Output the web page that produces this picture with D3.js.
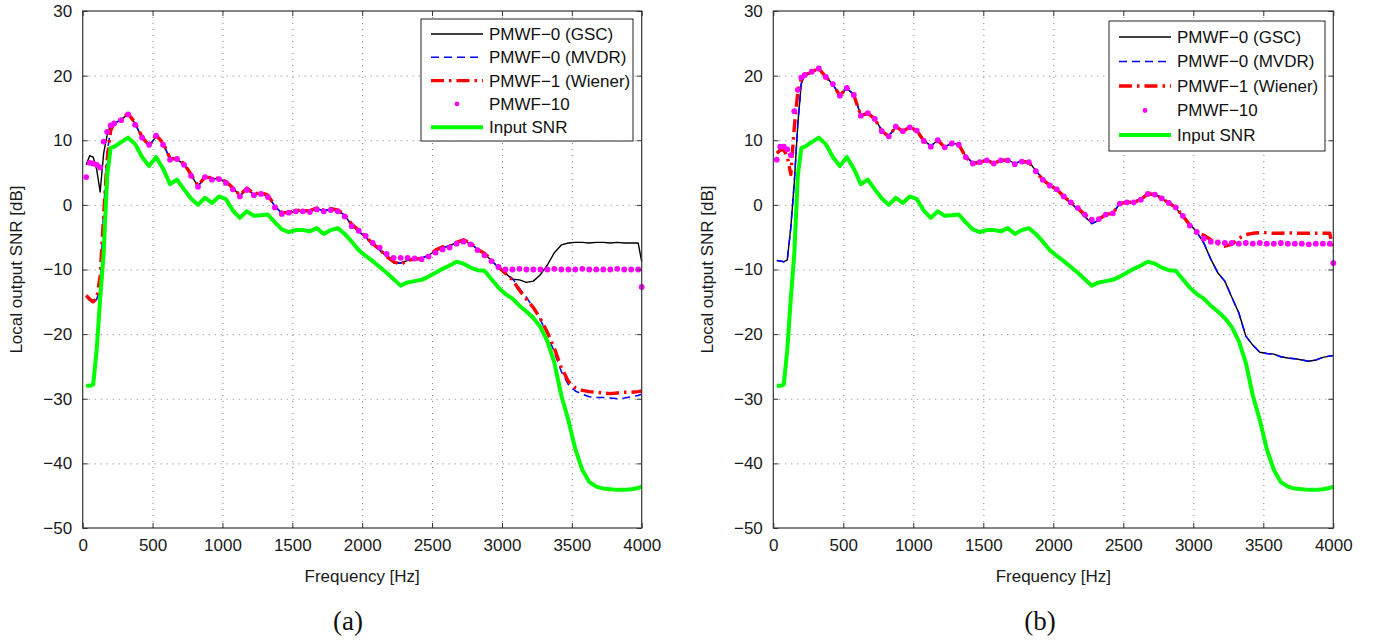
<!DOCTYPE html>
<html><head><meta charset="utf-8">
<script src="https://cdn.jsdelivr.net/npm/d3@7"></script>
<style>
body{margin:0;background:#fff;}
svg{display:block;}
text{font-family:"Liberation Sans",Arial,Helvetica,sans-serif;}
</style></head><body>
<svg id="c" width="1380" height="643"></svg>
<script>
// ---------- data ----------
const freq = [25,50,75,100,125,150,175,200,225,
  275,325,375,425,475,525,575,625,675,725,775,825,875,925,975,1025,1075,1125,1175,1225,
  1275,1325,1375,1425,1475,1525,1575,1625,1675,1725,1775,1825,1875,1925,1975,2025,2075,2125,2175,2225,
  2275,2325,2375,2425,2475,2525,2575,2625,2675,2725,2775,2825,2875,2925,2975,3025,3075,3125,3175,3225,
  3275,3325,3375,3425,3475,3525,3575,3625,3675,3725,3775,3825,3875,3925,3975,4000];

const inputSNR = [-28.0,-28.0,-27.8,-22.4,-14.5,-7.5,4.5,8.8,9.0,
  9.7,10.4,9.4,7.4,6.0,7.4,5.6,3.2,3.9,2.4,1.0,0.0,1.1,0.3,1.3,0.9,-0.9,-2.0,-1.0,-1.7,
  -1.6,-1.5,-2.7,-3.8,-4.2,-3.9,-3.9,-4.1,-3.6,-4.5,-3.9,-3.6,-4.5,-5.7,-7.0,-7.9,-8.7,-9.6,-10.5,-11.5,
  -12.5,-12.0,-11.8,-11.6,-11.1,-10.5,-9.9,-9.4,-8.8,-9.1,-9.7,-10.1,-10.2,-11.5,-12.8,-13.8,-14.5,-15.6,-16.5,-17.5,
  -18.9,-21.1,-24.4,-29.5,-33.3,-37.8,-41.0,-42.9,-43.6,-43.9,-44.0,-44.1,-44.1,-44.0,-43.8,-43.6];

// panel (a)
const gscA = [6.2,7.6,7.4,5.5,2.0,8.0,10.8,12.4,12.6,
  13.2,14.0,12.6,10.3,9.1,10.6,9.5,7.1,7.0,6.3,4.6,2.9,4.2,4.1,4.0,3.5,2.6,1.4,2.4,1.6,
  1.8,1.4,-0.2,-1.3,-1.3,-0.9,-1.0,-1.0,-0.6,-0.9,-0.7,-0.9,-1.6,-3.2,-4.1,-5.0,-6.1,-7.0,-8.0,-9.0,
  -9.0,-8.6,-8.4,-8.2,-7.8,-7.1,-6.6,-6.4,-5.8,-5.6,-6.0,-6.9,-7.6,-8.6,-9.7,-10.6,-11.5,-11.6,-12.0,-11.8,
  -10.8,-9.3,-7.4,-6.2,-5.9,-5.8,-5.8,-5.9,-5.8,-5.8,-5.9,-5.8,-5.9,-5.9,-5.9,-8.8];
const mvdrA = [-14.2,-14.8,-15.2,-14.6,-13.0,-0.8,8.0,11.8,12.6,
  13.2,14.0,12.6,10.3,9.1,10.6,9.5,7.1,7.0,6.3,4.6,2.9,4.2,4.1,4.0,3.5,2.6,1.4,2.4,1.6,
  1.8,1.4,-0.2,-1.3,-1.3,-0.9,-1.0,-1.0,-0.6,-0.9,-0.7,-0.9,-1.6,-3.2,-4.1,-5.0,-6.1,-7.0,-7.8,-8.8,
  -9.0,-8.5,-8.4,-8.3,-7.8,-7.1,-6.6,-6.3,-5.8,-5.6,-6.0,-6.8,-7.6,-8.6,-9.7,-10.5,-11.4,-12.9,-14.3,-15.9,
  -17.8,-20.0,-22.8,-25.8,-27.8,-28.8,-29.3,-29.7,-29.8,-29.8,-29.9,-30.0,-29.9,-29.7,-29.5,-29.3];
const wienerA = [-14.0,-14.6,-15.0,-14.5,-11.0,-1.5,7.0,11.5,12.6,
  13.3,14.1,12.7,10.5,9.2,10.8,9.6,7.2,7.1,6.4,4.7,3.0,4.3,4.2,4.1,3.6,2.6,1.5,2.6,1.7,
  1.9,1.5,-0.1,-1.2,-1.2,-0.8,-0.9,-0.9,-0.5,-0.8,-0.6,-0.8,-1.5,-3.0,-3.9,-4.9,-6.0,-6.9,-8.0,-8.8,
  -9.2,-8.6,-8.4,-8.3,-7.8,-7.0,-6.5,-6.4,-5.8,-5.4,-5.9,-6.9,-7.5,-8.5,-9.6,-10.6,-11.6,-13.2,-14.6,-15.9,
  -17.6,-19.7,-22.2,-25.2,-27.3,-28.3,-28.7,-28.9,-29.0,-29.1,-29.2,-29.1,-29.0,-29.0,-28.9,-28.8];
const pmwf10A = [4.3,6.5,6.4,6.2,5.8,9.8,11.3,12.3,12.6,
  13.1,14.0,12.4,10.4,9.3,10.7,9.3,7.0,7.1,6.2,4.5,2.8,4.3,3.9,4.0,3.4,2.4,1.3,2.3,1.5,
  1.7,1.2,-0.4,-1.4,-1.2,-1.0,-1.0,-1.1,-0.7,-1.0,-0.8,-1.0,-1.8,-3.3,-4.0,-4.8,-5.9,-6.6,-7.6,-8.2,
  -8.2,-8.2,-8.3,-8.4,-8.0,-7.4,-6.9,-6.6,-6.0,-5.7,-6.1,-7.0,-7.8,-8.7,-9.6,-10.0,-10.0,-9.9,-10.0,-10.0,
  -10.0,-10.0,-9.9,-10.0,-10.0,-10.0,-9.9,-10.0,-10.0,-10.0,-10.0,-9.9,-10.0,-10.0,-10.0,-12.7];

// panel (b)
const gscB = [-8.6,-8.7,-8.8,-8.5,-3.5,3.5,12.5,18.8,20.0,
  20.5,21.2,19.9,18.6,17.0,18.0,17.1,13.9,14.1,13.4,11.5,10.7,12.0,11.5,12.0,11.6,10.0,9.1,10.0,9.0,
  9.5,9.4,7.5,6.5,6.7,7.0,6.5,7.0,7.0,6.4,6.8,6.7,5.3,4.0,3.0,2.3,1.2,0.3,-0.7,-1.8,
  -2.9,-2.4,-1.6,-1.3,0.2,0.4,0.5,0.9,1.8,1.7,1.0,0.2,-0.5,-1.8,-3.0,-4.2,-5.9,-8.4,-10.5,-11.8,
  -14.3,-16.7,-20.3,-21.7,-22.8,-23.0,-23.1,-23.5,-23.7,-23.8,-24.0,-24.2,-24.0,-23.6,-23.4,-23.3];
const mvdrB = [-8.6,-8.7,-8.8,-8.5,-3.5,3.5,12.5,18.8,20.0,
  20.5,21.2,19.9,18.6,17.0,18.0,17.1,13.9,14.1,13.4,11.5,10.7,12.0,11.5,12.0,11.6,10.0,9.1,10.0,9.0,
  9.5,9.4,7.5,6.5,6.7,7.0,6.5,7.0,7.0,6.4,6.8,6.7,5.3,4.0,3.0,2.3,1.2,0.3,-0.7,-1.8,
  -2.9,-2.4,-1.6,-1.3,0.2,0.4,0.5,0.9,1.8,1.7,1.0,0.2,-0.5,-1.8,-3.0,-4.2,-5.9,-8.4,-10.5,-11.8,
  -14.3,-16.7,-20.3,-21.7,-22.8,-23.0,-23.1,-23.5,-23.7,-23.8,-24.0,-24.2,-24.0,-23.6,-23.4,-23.3];
const wienerB = [8.0,8.5,8.5,7.5,4.7,12.0,17.5,19.5,20.1,
  20.6,21.1,19.8,18.7,16.9,18.1,17.0,13.8,14.2,13.3,11.4,10.6,12.1,11.4,12.0,11.5,9.9,9.0,10.0,8.9,
  9.5,9.3,7.4,6.4,6.6,6.9,6.4,6.9,6.9,6.3,6.7,6.6,5.2,3.9,3.0,2.4,1.3,0.4,-0.5,-1.5,
  -2.3,-2.2,-1.5,-1.3,0.2,0.4,0.4,0.8,1.7,1.6,1.0,0.3,-0.4,-1.7,-3.1,-4.3,-4.7,-5.4,-6.0,-6.4,
  -6.1,-5.2,-4.6,-4.4,-4.3,-4.3,-4.4,-4.4,-4.3,-4.4,-4.4,-4.4,-4.4,-4.4,-4.4,-7.2];
const pmwf10B = [7.0,9.0,9.0,8.6,7.7,14.5,17.8,19.7,20.1,
  20.6,21.1,19.8,18.7,16.9,18.1,17.0,13.8,14.2,13.3,11.4,10.6,12.1,11.4,12.0,11.5,9.9,9.0,10.0,8.9,
  9.5,9.3,7.4,6.4,6.6,6.9,6.4,6.9,6.9,6.3,6.7,6.6,5.2,3.9,3.0,2.4,1.3,0.4,-0.5,-1.5,
  -2.3,-2.2,-1.5,-1.3,0.2,0.4,0.4,0.8,1.7,1.6,1.0,0.3,-0.4,-1.7,-3.2,-4.2,-5.2,-5.7,-5.8,-5.9,
  -5.9,-6.0,-5.9,-6.0,-5.9,-6.0,-6.0,-5.9,-6.0,-6.0,-6.0,-6.1,-6.0,-6.0,-6.0,-9.0];

const seriesNames = ["PMWF\u22120 (GSC)","PMWF\u22120 (MVDR)","PMWF\u22121 (Wiener)","PMWF\u221210","Input SNR"];
const xTicks = [0,500,1000,1500,2000,2500,3000,3500,4000];
const yTicks = [-50,-40,-30,-20,-10,0,10,20,30];
const xLabel = "Frequency [Hz]";
const yLabel = "Local output SNR [dB]";
const panelLabels = ["(a)","(b)"];

// ---------- styles ----------
const styles = [
  {type:"line", color:"#000000", width:1.4, dash:null},
  {type:"line", color:"#0000ff", width:1.5, dash:"8 5"},
  {type:"line", color:"#ff0000", width:3.4, dash:"13 5 2.5 5"},
  {type:"dots", color:"#ff00ff", r:2.9},
  {type:"line", color:"#00ff00", width:4, dash:null}
];

const panels = [
  {left:82.7, top:11, w:559, h:517, data:[gscA,mvdrA,wienerA,pmwf10A,inputSNR],
   legend:{x:421, y:19, w:212, h:122, first:15, step:23.3}, label:panelLabels[0], labelX:348, yLabX:21.7},
  {left:773.3, top:11, w:560, h:517, data:[gscB,mvdrB,wienerB,pmwf10B,inputSNR],
   legend:{x:1109, y:21, w:216, h:130, first:16, step:24.5}, label:panelLabels[1], labelX:1040, yLabX:713.3}
];

const svg = d3.select("#c");
const fmt = d => String(d).replace("-", "\u2212");

function drawPanel(p){
  const g = svg.append("g").attr("transform",`translate(${p.left},${p.top})`);
  const x = d3.scaleLinear().domain([0,4000]).range([0,p.w]);
  const y = d3.scaleLinear().domain([-50,30]).range([p.h,0]);

  // grid
  const gx = g.append("g").attr("transform",`translate(0,${p.h})`)
    .call(d3.axisBottom(x).tickValues(xTicks.slice(1,-1)).tickSize(-p.h).tickFormat(""));
  const gy = g.append("g")
    .call(d3.axisLeft(y).tickValues(yTicks.slice(1,-1)).tickSize(-p.w).tickFormat(""));
  [gx,gy].forEach(a=>{
    a.select(".domain").remove();
    a.selectAll("line").attr("stroke","#7a7a7a").attr("stroke-width",1).attr("stroke-dasharray","1 5");
  });

  // series
  const line = d3.line().x((d,i)=>x(freq[i])).y(d=>y(d));
  p.data.forEach((arr,k)=>{
    const s = styles[k];
    if(s.type==="line"){
      g.append("path").datum(arr).attr("d",line)
        .attr("fill","none").attr("stroke",s.color).attr("stroke-width",s.width)
        .attr("stroke-linejoin","round")
        .attr("stroke-dasharray",s.dash);
    } else {
      g.append("g").selectAll("circle").data(arr).join("circle")
        .attr("cx",(d,i)=>x(freq[i])).attr("cy",d=>y(d)).attr("r",s.r)
        .attr("fill",s.color);
    }
  });

  // frame
  g.append("rect").attr("width",p.w).attr("height",p.h)
    .attr("fill","none").attr("stroke","#333").attr("stroke-width",1.2);

  // axes with inward ticks
  const axB = g.append("g").attr("transform",`translate(0,${p.h})`)
    .call(d3.axisBottom(x).tickValues(xTicks).tickSizeInner(-5).tickSizeOuter(0).tickPadding(11).tickFormat(fmt));
  const axL = g.append("g")
    .call(d3.axisLeft(y).tickValues(yTicks).tickSizeInner(-5).tickSizeOuter(0).tickPadding(10.5).tickFormat(fmt));
  const axT = g.append("g")
    .call(d3.axisTop(x).tickValues(xTicks).tickSizeInner(-5).tickSizeOuter(0).tickFormat(""));
  const axR = g.append("g").attr("transform",`translate(${p.w},0)`)
    .call(d3.axisRight(y).tickValues(yTicks).tickSizeInner(-5).tickSizeOuter(0).tickFormat(""));
  [axB,axL,axT,axR].forEach(a=>{
    a.select(".domain").remove();
    a.selectAll("line").attr("stroke","#333");
    a.selectAll("text").attr("fill","#1a1a1a").style("font-size","17px")
      .style("font-family",'"Liberation Sans",Arial,sans-serif');
  });

  // axis labels
  svg.append("text").attr("x",p.left+p.w/2).attr("y",582).attr("text-anchor","middle")
    .style("font-size","17px").attr("fill","#1a1a1a").text(xLabel);
  svg.append("text").attr("transform",`translate(${p.yLabX},${p.top+p.h/2}) rotate(-90)`)
    .attr("text-anchor","middle").style("font-size","17px").attr("fill","#1a1a1a").text(yLabel);
  svg.append("text").attr("x",p.labelX).attr("y",630).attr("text-anchor","middle")
    .style("font-family",'"Liberation Serif","Times New Roman",serif').style("font-size","27px")
    .attr("fill","#111").text(p.label);

  // legend
  const L = p.legend;
  const lg = svg.append("g").attr("transform",`translate(${L.x},${L.y})`);
  lg.append("rect").attr("width",L.w).attr("height",L.h).attr("fill","#fff")
    .attr("stroke","#222").attr("stroke-width",1);
  seriesNames.forEach((name,k)=>{
    const s = styles[k];
    const cy = L.first + k*L.step;
    if(s.type==="line"){
      lg.append("line").attr("x1",10).attr("x2",62).attr("y1",cy).attr("y2",cy)
        .attr("stroke",s.color).attr("stroke-width",s.width).attr("stroke-dasharray",s.dash);
    } else {
      lg.append("circle").attr("cx",36).attr("cy",cy).attr("r",2.4).attr("fill",s.color);
    }
    lg.append("text").attr("x",68).attr("y",cy).attr("dy","0.35em")
      .style("font-size","17px").attr("fill","#111").text(name);
  });
}

panels.forEach(drawPanel);
</script>
</body></html>
